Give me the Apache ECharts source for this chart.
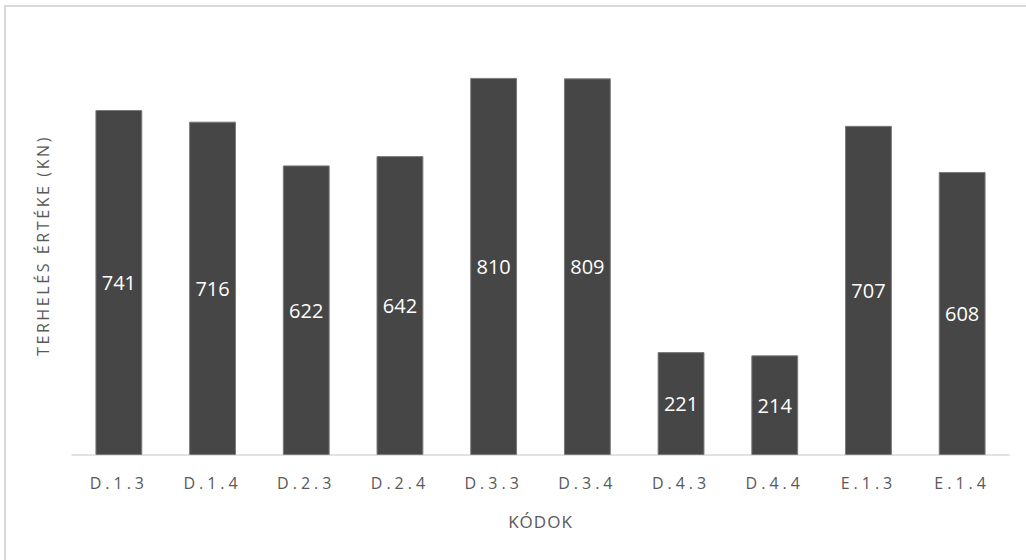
<!DOCTYPE html>
<html>
<head>
<meta charset="utf-8">
<script src="https://cdn.jsdelivr.net/npm/echarts@6/dist/echarts.min.js"></script>
<style>
  html, body { margin: 0; padding: 0; background: #fff; }
  #chart { width: 1026px; height: 560px; }
</style>
</head>
<body>
<div id="chart"></div>
<script>
// Load test codes and the measured load values (kN)
const codes = ['D.1.3', 'D.1.4', 'D.2.3', 'D.2.4', 'D.3.3', 'D.3.4', 'D.4.3', 'D.4.4', 'E.1.3', 'E.1.4'];
const loads = [741, 716, 622, 642, 810, 809, 221, 214, 707, 608];
const yAxisName = 'TERHELÉS ÉRTÉKE (KN)';
const xAxisName = 'KÓDOK';

const font = '"Open Sans", "Noto Sans", sans-serif';
const chart = echarts.init(document.getElementById('chart'), null, { renderer: 'svg' });

chart.setOption({
  animation: false,
  backgroundColor: '#ffffff',
  graphic: [{
    type: 'rect',
    shape: { x: 5, y: 6, width: 1200, height: 800 },
    style: { fill: 'none', stroke: '#d9d9d9', lineWidth: 2 },
    silent: true
  }],
  grid: { left: 72, right: 17, top: 36, bottom: 105 },
  xAxis: {
    type: 'category',
    data: codes,
    name: xAxisName,
    nameLocation: 'middle',
    nameGap: 58,
    nameTextStyle: { color: '#595959', fontSize: 17, fontFamily: font },
    axisLine: { lineStyle: { color: '#d9d9d9', width: 1.5 } },
    axisTick: { show: false },
    axisLabel: { color: '#595959', fontSize: 16, fontFamily: font, margin: 20, interval: 0 }
  },
  yAxis: {
    type: 'value',
    min: 0,
    max: 900,
    name: yAxisName,
    nameLocation: 'middle',
    nameGap: 21,
    nameTextStyle: { color: '#595959', fontSize: 16, fontFamily: font },
    axisLine: { show: false },
    axisTick: { show: false },
    axisLabel: { show: false },
    splitLine: { show: false }
  },
  series: [{
    type: 'bar',
    data: loads,
    barWidth: '50%',
    itemStyle: { color: '#464646', borderColor: '#7a7a7a', borderWidth: 1 },
    label: {
      show: true,
      position: 'inside',
      color: '#ffffff',
      fontSize: 20,
      fontFamily: font
    }
  }]
});

// Spread the axis texts with character spacing
const spacing = { axis: 4, yName: 2.6, xName: 1 };
document.querySelectorAll('#chart svg text').forEach(function (t) {
  const s = t.textContent;
  let ls = 0;
  if (codes.indexOf(s) >= 0) ls = spacing.axis;
  else if (s === yAxisName) ls = spacing.yName;
  else if (s === xAxisName) ls = spacing.xName;
  if (ls) {
    t.style.letterSpacing = ls + 'px';
  }
});
</script>
</body>
</html>
